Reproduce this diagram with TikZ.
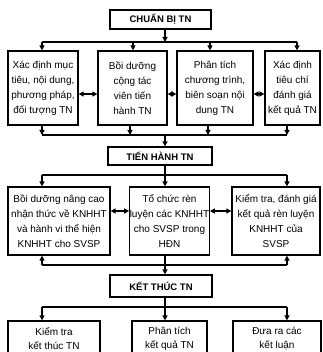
\documentclass[tikz,border=0pt]{standalone}
\usepackage{fontspec}
\setmainfont{Liberation Sans}
\usetikzlibrary{arrows.meta,calc,positioning}

\tikzset{
  box/.style={draw,line width=1.2pt,align=center,inner sep=0pt,font=\fontsize{10}{15}\selectfont},
  head/.style={box,font=\bfseries\fontsize{9.5}{11}\selectfont},
  line/.style={line width=1.2pt},
  arr/.style={line,-{Triangle[length=5pt,width=5pt]}},
  dbl/.style={line,{Triangle[length=5pt,width=5pt]}-{Triangle[length=5pt,width=5pt]}}
}

\begin{document}
\begin{tikzpicture}[x=1pt,y=-1pt]
\fill[white] (0,0) rectangle (322,352);
\clip (0,0) rectangle (322,352);

% stage boxes
\node[head,minimum width=101pt,minimum height=19pt] (prep) at (160.5,19.5) {CHUẨN BỊ TN};
\node[head,minimum width=104pt,minimum height=18pt] (run) at (160,156) {TIẾN HÀNH TN};
\node[head,minimum width=102pt,minimum height=22pt] (finish) at (161,286) {KẾT THÚC TN};

% row 1
\node[box,minimum width=70pt,minimum height=74pt] (a1) at (43,88) {Xác định mục\\tiêu, nội dung,\\phương pháp,\\đối tượng TN};
\node[box,minimum width=69pt,minimum height=74pt] (a2) at (132.5,88) {Bồi dưỡng\\cộng tác\\viên tiến\\hành TN};
\node[box,minimum width=76pt,minimum height=74pt] (a3) at (215,88) {Phân tích\\chương trình,\\biên soạn nội\\dung TN};
\node[box,minimum width=55pt,minimum height=74pt] (a4) at (292.5,88) {Xác định\\tiêu chí\\đánh giá\\kết quả TN};

% row 2
\node[box,minimum width=102pt,minimum height=68pt] (b1) at (59,221) {Bồi dưỡng nâng cao\\nhận thức về KNHHT\\và hành vi thể hiện\\KNHHT cho SVSP};
\node[box,minimum width=75pt,minimum height=68pt] (b2) at (169.5,221) {Tổ chức rèn\\luyện các KNHHT\\cho SVSP trong\\HĐN};
\node[box,minimum width=88pt,minimum height=68pt] (b3) at (276,221) {Kiểm tra, đánh giá\\kết quả rèn luyện\\KNHHT của\\SVSP};

% row 3
\node[box,font=\fontsize{10}{14}\selectfont,minimum width=92pt,minimum height=36pt] (f1) at (54,339) {Kiểm tra\\kết thúc TN};
\node[box,font=\fontsize{10}{14}\selectfont,minimum width=75pt,minimum height=36pt] (f2) at (169.5,339) {Phân tích\\kết quả TN};
\node[box,font=\fontsize{10}{14}\selectfont,minimum width=88pt,minimum height=36pt] (f3) at (277,339) {Đưa ra các\\kết luận};

% guide points
\coordinate (xl) at (42,0);
\coordinate (xm) at (165,0);
\coordinate (xr) at (287,0);
\coordinate (x2t) at (133,0);
\coordinate (x3t) at (210,0);
\coordinate (x4t) at (297,0);
\coordinate (x2b) at (130,0);
\coordinate (x3b) at (208,0);
\coordinate (bus1) at (0,42);
\coordinate (bus2) at (0,135);
\coordinate (bus3) at (0,175);
\coordinate (bus4) at (0,265);
\coordinate (bus5) at (0,307);
\coordinate (m1) at (0,94);
\coordinate (m2) at (0,211);

% CHUAN BI
\draw[arr] (prep.south -| xm) -- (bus1 -| xm);
\draw[line] (bus1 -| xl) -- (bus1 -| x4t);
\foreach \n/\x in {a1/xl,a2/x2t,a3/x3t,a4/x4t}
  \draw[arr] (bus1 -| \x) -- (\n.north -| \x);
\draw[dbl] (a1.east |- m1) -- (a2.west |- m1);
\draw[dbl] (a2.east |- m1) -- (a3.west |- m1);
\draw[dbl] (a3.east |- m1) -- (a4.west |- m1);

% TIEN HANH
\foreach \n/\x in {a1/xl,a2/x2b,a3/x3b,a4/xr}
  \draw[arr] (\n.south -| \x) -- (bus2 -| \x);
\draw[line] (bus2 -| xl) -- (bus2 -| xr);
\draw[arr] (bus2 -| xm) -- (run.north -| xm);
\draw[line] (run.south -| xm) -- (bus3 -| xm);
\draw[line] (bus3 -| xl) -- (bus3 -| xr);
\foreach \n/\x in {b1/xl,b2/xm,b3/xr}
  \draw[arr] (bus3 -| \x) -- (\n.north -| \x);
\draw[dbl] (b1.east |- m2) -- (b2.west |- m2);
\draw[dbl] (b2.east |- m2) -- (b3.west |- m2);

% KET THUC
\draw[line] (bus4 -| xl) -- (bus4 -| xr);
\draw[arr] (bus4 -| xl) -- (b1.south -| xl);
\draw[arr] (bus4 -| xr) -- (b3.south -| xr);
\draw[arr] (b2.south -| xm) -- (finish.north -| xm);
\draw[line] (finish.south -| xm) -- (bus5 -| xm);
\draw[line] (bus5 -| xl) -- (bus5 -| xr);
\foreach \n/\x in {f1/xl,f2/xm,f3/xr}
  \draw[arr] (bus5 -| \x) -- (\n.north -| \x);
\end{tikzpicture}
\end{document}
